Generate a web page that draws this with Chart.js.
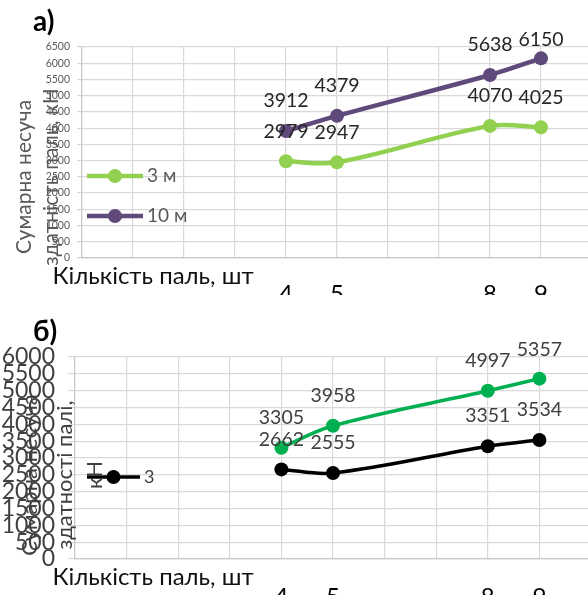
<!DOCTYPE html>
<html>
<head>
<meta charset="utf-8">
<script src="https://cdn.jsdelivr.net/npm/chart.js@4.4.1/dist/chart.umd.min.js"></script>
<style>
  html, body { margin: 0; padding: 0; background: #fff; overflow: hidden; }
  .panel { position: relative; width: 588px; overflow: hidden; }
  #panelA { height: 295px; }
  #panelB { height: 300px; }
  canvas { position: absolute; left: 0; top: 0; }
</style>
</head>
<body>
<div class="panel" id="panelA"><canvas id="chartA" width="600" height="300"></canvas></div>
<div class="panel" id="panelB"><canvas id="chartB" width="600" height="300"></canvas></div>

<script>
// Кількість паль (x) і сумарна несуча здатність, кН (y)
const pileCounts = [4, 5, 8, 9];
const xTickLabels = ['4', '5', '8', '9'];

// а) довжина паль 3 м і 10 м
const capacityA3m = [2979, 2947, 4070, 4025];
const capacityA10m = [3912, 4379, 5638, 6150];

// б) дві серії, в легенді показано лише "3"
const capacityBUpper = [3305, 3958, 4997, 5357];
const capacityB3 = [2662, 2555, 3351, 3534];

const FONT = 'Lato, "Open Sans", sans-serif';

// Підписи значень над точками, легенда та заголовки осей
function decorPlugin(cfg) {
    return {
        id: 'decor',
        afterDatasetsDraw(chart) {
            const ctx = chart.ctx;
            ctx.save();
            ctx.font = cfg.labelSize + 'px ' + FONT;
            ctx.fillStyle = cfg.labelColor;
            ctx.textAlign = 'center';
            ctx.textBaseline = 'middle';
            chart.data.datasets.forEach((ds, di) => {
                chart.getDatasetMeta(di).data.forEach((pt, i) => {
                    const y = Math.max(pt.y - 30, chart.chartArea.top - 7);
                    ctx.fillText(String(ds.data[i].y), pt.x, y);
                });
            });
            ctx.restore();
        },
        afterDraw(chart) {
            const ctx = chart.ctx;
            ctx.save();

            // легенда всередині області побудови
            cfg.legend.forEach(item => {
                const ds = chart.data.datasets[item.index];
                ctx.strokeStyle = ds.borderColor;
                ctx.lineWidth = ds.borderWidth;
                ctx.beginPath();
                ctx.moveTo(item.x1, item.y);
                ctx.lineTo(item.x2, item.y);
                ctx.stroke();
                ctx.fillStyle = ds.borderColor;
                ctx.beginPath();
                ctx.arc((item.x1 + item.x2) / 2, item.y, ds.pointRadius, 0, Math.PI * 2);
                ctx.fill();
                ctx.font = cfg.legendSize + 'px ' + FONT;
                ctx.fillStyle = cfg.legendColor;
                ctx.textAlign = 'left';
                ctx.textBaseline = 'middle';
                ctx.fillText(ds.label, item.x2 + 4, item.y);
            });

            // назва осі x
            ctx.font = cfg.xTitle.size + 'px ' + FONT;
            ctx.fillStyle = cfg.xTitle.color;
            ctx.textAlign = 'center';
            ctx.textBaseline = 'alphabetic';
            ctx.fillText(cfg.xTitle.text, cfg.xTitle.x, cfg.xTitle.y);

            // назва осі y, повернута
            ctx.font = cfg.yTitle.size + 'px ' + FONT;
            ctx.fillStyle = cfg.yTitle.color;
            ctx.textBaseline = 'middle';
            cfg.yTitle.lines.forEach(line => {
                ctx.save();
                ctx.translate(line.x, cfg.yTitle.y);
                ctx.rotate(-Math.PI / 2);
                ctx.fillText(line.text, 0, 0);
                ctx.restore();
            });

            // літера панелі
            ctx.font = 'bold 28px ' + FONT;
            ctx.fillStyle = '#000';
            ctx.textAlign = 'left';
            ctx.fillText(cfg.letter.text, cfg.letter.x, cfg.letter.y);

            ctx.restore();
        }
    };
}

function buildChart(canvas, cfg) {
    return new Chart(canvas, {
        type: 'line',
        data: {
            datasets: cfg.series.map(s => ({
                label: s.label,
                data: pileCounts.map((x, i) => ({ x: x, y: s.values[i] })),
                borderColor: s.color,
                backgroundColor: s.color,
                borderWidth: cfg.lineWidth,
                pointRadius: cfg.pointRadius,
                pointBorderWidth: 0,
                tension: 0.35,
                fill: false
            }))
        },
        options: {
            responsive: false,
            animation: false,
            events: [],
            layout: {
                padding: { top: cfg.area.top, right: canvas.width - cfg.area.right, left: 0, bottom: 0 }
            },
            plugins: {
                legend: { display: false },
                tooltip: { enabled: false }
            },
            scales: {
                x: {
                    type: 'linear',
                    min: 0,
                    max: 10,
                    ticks: {
                        stepSize: 1,
                        autoSkip: false,
                        maxRotation: 0,
                        padding: cfg.xTickPad,
                        color: '#000',
                        font: { family: FONT, size: cfg.xTickSize },
                        callback: v => {
                            const i = pileCounts.indexOf(v);
                            return i >= 0 ? xTickLabels[i] : '';
                        }
                    },
                    grid: { color: '#D9D9D9', lineWidth: 1.2, drawTicks: false },
                    border: { color: '#C8C8C8', width: 1.2 },
                    afterFit: s => {
                        s.height = canvas.height - cfg.area.bottom;
                        s.paddingLeft = 0;
                        s.paddingRight = 0;
                    }
                },
                y: {
                    min: 0,
                    max: cfg.yMax,
                    ticks: {
                        stepSize: 500,
                        autoSkip: false,
                        padding: cfg.yTickPad,
                        color: cfg.yTickColor,
                        font: { family: FONT, size: cfg.yTickSize },
                        callback: v => String(v)
                    },
                    grid: { color: '#D9D9D9', lineWidth: 1.2, tickLength: cfg.yTickLen },
                    border: { color: '#C8C8C8', width: 1.2 },
                    afterFit: s => {
                        s.width = cfg.area.left;
                        s.paddingTop = 0;
                        s.paddingBottom = 0;
                    }
                }
            }
        },
        plugins: [decorPlugin(cfg)]
    });
}

buildChart(document.getElementById('chartA'), {
    area: { left: 82, top: 47, right: 592, bottom: 258 },
    yMax: 6500,
    series: [
        { label: '3 м', values: capacityA3m, color: '#92D050' },
        { label: '10 м', values: capacityA10m, color: '#604A7B' }
    ],
    lineWidth: 4.5,
    pointRadius: 7,
    xTickPad: 22,
    xTickSize: 24,
    yTickPad: 7,
    yTickLen: 5,
    yTickSize: 10.5,
    yTickColor: '#595959',
    labelSize: 19.5,
    labelColor: '#262626',
    legend: [
        { index: 0, x1: 87, x2: 143, y: 176 },
        { index: 1, x1: 87, x2: 143, y: 216 }
    ],
    legendSize: 19,
    legendColor: '#595959',
    xTitle: { text: 'Кількість паль, шт', x: 153, y: 284, size: 24, color: '#111' },
    yTitle: {
        y: 177, size: 21, color: '#595959',
        lines: [
            { text: 'Сумарна несуча', x: 24 },
            { text: 'здатність паль, кН', x: 51 }
        ]
    },
    letter: { text: 'а)', x: 33, y: 22 }
});

buildChart(document.getElementById('chartB'), {
    area: { left: 75, top: 62, right: 591, bottom: 264 },
    yMax: 6000,
    series: [
        { label: '', values: capacityBUpper, color: '#00B050' },
        { label: '3', values: capacityB3, color: '#000000' }
    ],
    lineWidth: 3.5,
    pointRadius: 7,
    xTickPad: 24,
    xTickSize: 24,
    yTickPad: 13,
    yTickLen: 7,
    yTickSize: 23,
    yTickColor: '#404040',
    labelSize: 19.5,
    labelColor: '#404040',
    legend: [
        { index: 1, x1: 87, x2: 140, y: 182 }
    ],
    legendSize: 18,
    legendColor: '#404040',
    xTitle: { text: 'Кількість паль, шт', x: 153, y: 290, size: 24, color: '#111' },
    yTitle: {
        y: 180, size: 22, color: '#404040',
        lines: [
            { text: 'Сумарна несуча', x: 30 },
            { text: 'здатності палі,', x: 65 },
            { text: 'кН', x: 95 }
        ]
    },
    letter: { text: 'б)', x: 33, y: 37 }
});
</script>
</body>
</html>
